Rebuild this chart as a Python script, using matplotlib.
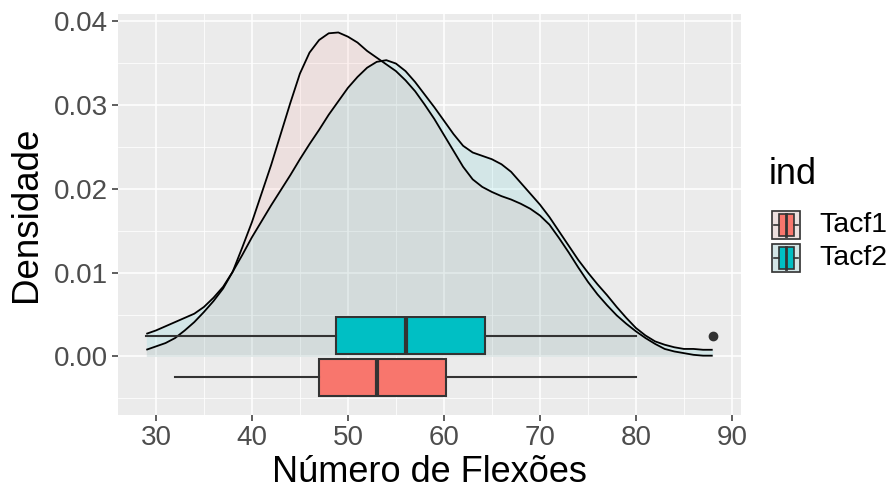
import numpy as np
import matplotlib
matplotlib.use("Agg")
import matplotlib.pyplot as plt
from matplotlib.patches import Rectangle
from matplotlib.ticker import MultipleLocator

plt.rcParams['font.family'] = ['Liberation Sans', 'DejaVu Sans']

# ======================================================
# Data
# ======================================================

groups = ["Tacf1", "Tacf2"]
colors = ["#F8766D", "#00BFC4"]

# density curves, read at every x from 29 to 88
dens_x = list(range(29, 89))
tacf1_y = [0.0008, 0.0012, 0.0016, 0.0022, 0.0031, 0.0041, 0.0053, 0.0066, 0.0081, 0.0101,
           0.0130, 0.0160, 0.0194, 0.0228, 0.0265, 0.0302, 0.0337, 0.0362, 0.0377, 0.0385,
           0.0386, 0.0381, 0.0374, 0.0364, 0.0356, 0.0348, 0.0340, 0.0329, 0.0316, 0.0300,
           0.0283, 0.0264, 0.0245, 0.0226, 0.0211, 0.0202, 0.0196, 0.0191, 0.0187, 0.0182,
           0.0176, 0.0168, 0.0157, 0.0141, 0.0124, 0.0106, 0.0089, 0.0074, 0.0061, 0.0049,
           0.0039, 0.0030, 0.0022, 0.0015, 0.0009, 0.0006, 0.0004, 0.0002, 0.0001, 0.0001]
tacf2_y = [0.0027, 0.0031, 0.0036, 0.0041, 0.0046, 0.0051, 0.0059, 0.0070, 0.0083, 0.0101,
           0.0121, 0.0142, 0.0161, 0.0180, 0.0198, 0.0216, 0.0235, 0.0253, 0.0270, 0.0288,
           0.0304, 0.0320, 0.0333, 0.0344, 0.0351, 0.0353, 0.0349, 0.0340, 0.0327, 0.0312,
           0.0297, 0.0281, 0.0265, 0.0251, 0.0243, 0.0239, 0.0235, 0.0229, 0.0220, 0.0207,
           0.0194, 0.0181, 0.0166, 0.0149, 0.0132, 0.0115, 0.0100, 0.0086, 0.0073, 0.0059,
           0.0046, 0.0034, 0.0025, 0.0018, 0.0014, 0.0011, 0.0009, 0.0009, 0.0008, 0.0008]

# boxplot stats (whisker low, q1, median, q3, whisker high, outliers)
box_whislo = [32, 29]
box_q1 = [47, 48.75]
box_med = [53, 56]
box_q3 = [60.25, 64.25]
box_whishi = [80, 80]
box_fliers = [[], [88]]
box_pos = [-0.0025, 0.0025]

x_ticks = [30, 40, 50, 60, 70, 80, 90]
y_ticks = [0.00, 0.01, 0.02, 0.03, 0.04]

# ======================================================
# Figure
# ======================================================

W, H = 893, 491
fig = plt.figure(figsize=(W / 100, H / 100), dpi=100)
fig.patch.set_facecolor("white")

def px_axes(x0, y0, x1, y1):
    # axes from pixel box (top-left origin)
    return fig.add_axes([x0 / W, 1 - y1 / H, (x1 - x0) / W, (y1 - y0) / H])

ax = px_axes(118, 14, 741, 415)
ax.set_facecolor("#EBEBEB")
for s in ax.spines.values():
    s.set_visible(False)

for dy, c in zip([tacf1_y, tacf2_y], colors):
    ax.fill_between(dens_x, dy, 0, color=c, alpha=0.1, lw=0, zorder=2)
    ax.plot(dens_x, dy, color="black", lw=1.3, zorder=3,
            solid_joinstyle="round", solid_capstyle="butt")

stats = []
for i in range(len(groups)):
    stats.append(dict(whislo=box_whislo[i], q1=box_q1[i], med=box_med[i],
                      q3=box_q3[i], whishi=box_whishi[i], fliers=box_fliers[i]))

bp = ax.bxp(stats, positions=box_pos, widths=0.0045, orientation="horizontal",
            patch_artist=True, showcaps=False, manage_ticks=False,
            boxprops=dict(edgecolor="#333333", linewidth=1.5),
            whiskerprops=dict(color="#333333", linewidth=1.5),
            medianprops=dict(color="#333333", linewidth=3),
            flierprops=dict(marker="o", markerfacecolor="#333333",
                            markeredgecolor="#333333", markersize=6))
for patch, c in zip(bp["boxes"], colors):
    patch.set_facecolor(c)
for k in ["boxes", "whiskers", "medians", "fliers"]:
    for a in bp[k]:
        a.set_zorder(4)

ax.set_xlim(26.05, 90.95)
ax.set_ylim(-0.00697, 0.0408)
ax.set_xticks(x_ticks)
ax.set_yticks(y_ticks)
ax.set_yticklabels(["%.2f" % v for v in y_ticks])
ax.xaxis.set_minor_locator(MultipleLocator(5))
ax.yaxis.set_minor_locator(MultipleLocator(0.005))
ax.grid(which="major", color="white", lw=1.1, zorder=0)
ax.grid(which="minor", color="white", lw=0.55, zorder=0)
ax.set_axisbelow(True)
ax.tick_params(which="major", length=4, width=1.1, color="#333333",
               labelcolor="#4D4D4D", labelsize=20, pad=3)
ax.tick_params(which="minor", length=0)

ax.set_xlabel("Número de Flexões", fontsize=26, labelpad=3)
ax.set_ylabel("Densidade", fontsize=26.5, labelpad=7)

# ======================================================
# Legend
# ======================================================

fig.text(769 / W, 1 - 175 / H, "ind", fontsize=26, va="center", ha="left")
key_top = [210, 243]
for i, g in enumerate(groups):
    kax = px_axes(771, key_top[i], 801, key_top[i] + 30)
    kax.set_xlim(0, 1)
    kax.set_ylim(0, 1)
    kax.axis("off")
    kax.add_patch(Rectangle((0, 0), 1, 1, facecolor="#EBEBEB", edgecolor="none"))
    kax.add_patch(Rectangle((0.02, 0.02), 0.96, 0.96, facecolor=colors[i], alpha=0.1,
                            edgecolor="none"))
    kax.add_patch(Rectangle((0.02, 0.02), 0.96, 0.96, facecolor="none",
                            edgecolor="#333333", lw=1.2))
    kax.add_patch(Rectangle((0.25, 0.12), 0.5, 0.76, facecolor=colors[i],
                            edgecolor="#333333", lw=1.2))
    kax.plot([0.1, 0.25], [0.5, 0.5], color="#333333", lw=1.2)
    kax.plot([0.75, 0.9], [0.5, 0.5], color="#333333", lw=1.2)
    kax.plot([0.5, 0.5], [0.12, 0.88], color="#333333", lw=2)
    fig.text(819 / W, 1 - (key_top[i] + 15) / H, g, fontsize=20.5,
             va="center", ha="left")

fig.savefig("out.png", dpi=100)
